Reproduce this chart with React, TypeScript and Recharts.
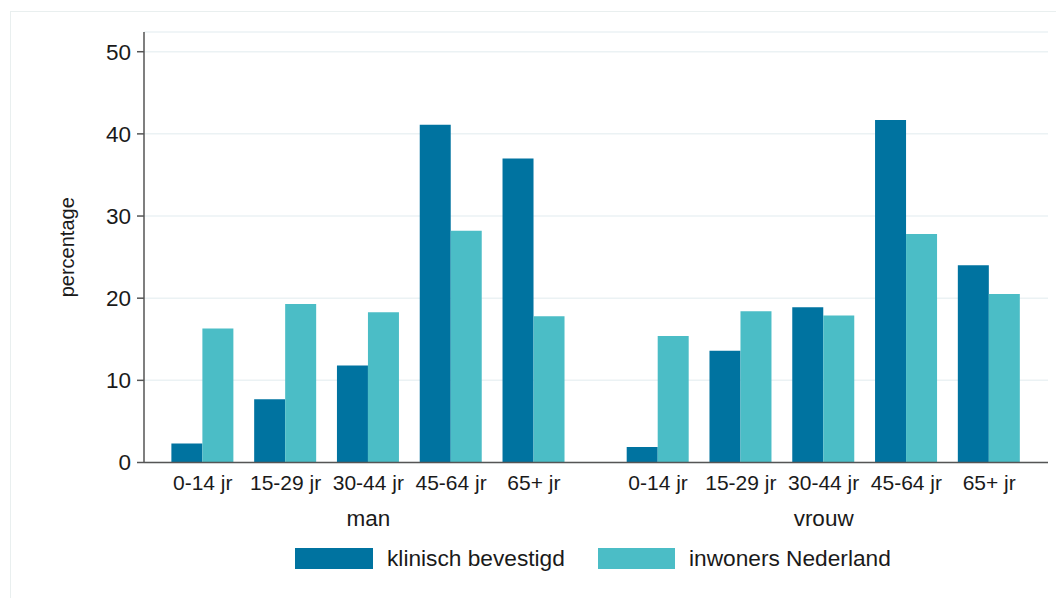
import React from 'react';
import { BarChart, Bar, XAxis, YAxis, CartesianGrid, Legend, Label } from 'recharts';

const ageGroups = ['0-14 jr', '15-29 jr', '30-44 jr', '45-64 jr', '65+ jr'];
const sexes = ['man', 'vrouw'];
const klinischMan = [2.3, 7.7, 11.8, 41.1, 37.0];
const klinischVrouw = [1.9, 13.6, 18.9, 41.7, 24.0];
const inwonersMan = [16.3, 19.3, 18.3, 28.2, 17.8];
const inwonersVrouw = [15.4, 18.4, 17.9, 27.8, 20.5];
const yTicks = [0, 10, 20, 30, 40, 50];
const seriesNames = ['klinisch bevestigd', 'inwoners Nederland'];

const GROUP_GAP = 0.5;
const klinisch = [klinischMan, klinischVrouw];
const inwoners = [inwonersMan, inwonersVrouw];

const data = sexes.flatMap((sex, g) =>
  ageGroups.map((age, i) => ({
    pos: g * (ageGroups.length + GROUP_GAP) + i,
    age,
    sex,
    showSex: i === Math.floor(ageGroups.length / 2),
    klinisch: klinisch[g][i],
    inwoners: inwoners[g][i],
  }))
);
const tickPositions = data.map((d) => d.pos);

const DARK = '#0073a0';
const LIGHT = '#4bbdc6';
const FONT = '"Liberation Sans", Arial, sans-serif';
const TEXT = '#1a1a1a';

const XTick = (props: any) => {
  const { x, y, payload } = props;
  const d = data.find((r) => r.pos === payload.value);
  if (!d) return null;
  return (
    <g>
      <text x={x} y={y + 27.5} textAnchor="middle" fontSize={21} fill={TEXT} fontFamily={FONT}>
        {d.age}
      </text>
      {d.showSex && (
        <text x={x} y={y + 63} textAnchor="middle" fontSize={22.5} fill={TEXT} fontFamily={FONT}>
          {d.sex}
        </text>
      )}
    </g>
  );
};

const LegendContent = () => (
  <div style={{ display: 'flex', alignItems: 'center', paddingLeft: 295, height: 40, fontFamily: FONT, fontSize: 22.7, color: TEXT }}>
    <div style={{ width: 78, height: 21, background: DARK }} />
    <span style={{ marginLeft: 14, width: 211, whiteSpace: 'nowrap' }}>{seriesNames[0]}</span>
    <div style={{ width: 77, height: 21, background: LIGHT }} />
    <span style={{ marginLeft: 14, whiteSpace: 'nowrap' }}>{seriesNames[1]}</span>
  </div>
);

const YLabel = (props: any) => {
  const vb = props.viewBox || {};
  const cx = 67;
  const cy = vb.y + vb.height / 2;
  return (
    <text x={cx} y={cy} transform={`rotate(-90 ${cx} ${cy})`} textAnchor="middle" dominantBaseline="central" fontSize={20} fill={TEXT} fontFamily={FONT}>
      percentage
    </text>
  );
};

export default function App() {
  return (
    <div style={{ position: 'absolute', left: 0, top: 0, width: 1056, height: 598, overflow: 'hidden', background: '#fff' }}>
      <div style={{ position: 'absolute', left: 10, top: 11, width: 1100, height: 700, border: '1.5px solid #e9efef' }} />
      <div style={{ position: 'absolute', left: 0, top: 0 }}>
        <BarChart width={1056} height={598} data={data} margin={{ top: 32, right: 8, bottom: 20, left: 0 }} barGap={0} barSize={31}>
          <CartesianGrid vertical={false} stroke="#ebf2f4" strokeWidth={1.5} />
          <XAxis
            dataKey="pos"
            type="number"
            domain={[-0.71, 10.21]}
            ticks={tickPositions}
            interval={0}
            tick={<XTick />}
            tickLine={false}
            tickSize={0}
            tickMargin={0}
            height={75.5}
            axisLine={{ stroke: '#555', strokeWidth: 1.5 }}
          />
          <YAxis
            type="number"
            domain={[0, 52.4]}
            ticks={yTicks}
            allowDataOverflow
            width={144}
            tickSize={7}
            tickMargin={6}
            tickLine={{ stroke: '#555', strokeWidth: 1.5 }}
            axisLine={{ stroke: '#555', strokeWidth: 1.5 }}
            tick={{ fontSize: 22.5, fill: TEXT, fontFamily: FONT }}
          >
            <Label content={<YLabel />} />
          </YAxis>
          <Legend verticalAlign="bottom" content={<LegendContent />} wrapperStyle={{ left: 0, width: 1056, height: 40 }} />
          <Bar dataKey="klinisch" name={seriesNames[0]} fill={DARK} isAnimationActive={false} />
          <Bar dataKey="inwoners" name={seriesNames[1]} fill={LIGHT} isAnimationActive={false} />
        </BarChart>
      </div>
    </div>
  );
}
